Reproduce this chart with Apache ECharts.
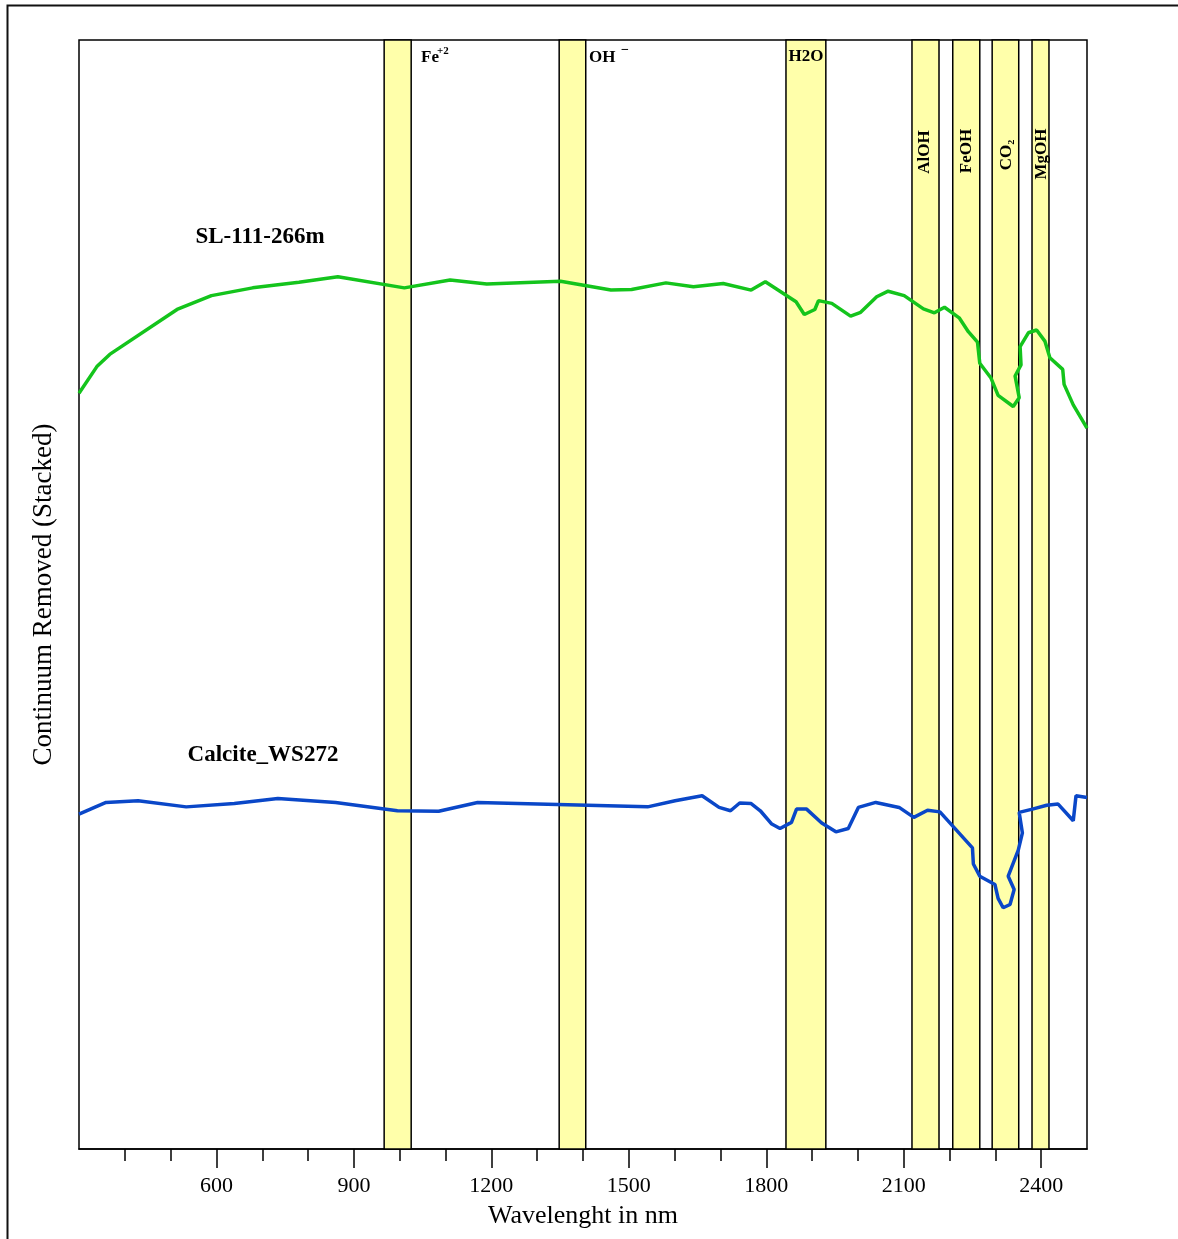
<!DOCTYPE html>
<html><head><meta charset="utf-8">
<script src="https://cdn.jsdelivr.net/npm/echarts@6/dist/echarts.min.js"></script>
<style>html,body{margin:0;padding:0;background:#fff}#c{width:1178px;height:1239px}</style>
</head><body><div id="c"></div>
<script>
// ---- data ----
const sampleName = 'SL-111-266m';
const sampleWl = [300,339,367,514,589,679,780,865,1010,1110,1190,1351,1461,1506,1581,1641,1706,1767,1798,1865,1883,1906,1914,1943,1984,2006,2041,2066,2101,2143,2167,2189,2221,2241,2261,2266,2290,2306,2339,2352,2343,2356,2354,2372,2390,2408,2419,2447,2450,2470,2500];
const sampleVal = [1.363,1.411,1.433,1.514,1.539,1.553,1.563,1.573,1.553,1.567,1.560,1.565,1.549,1.550,1.562,1.555,1.561,1.549,1.564,1.528,1.505,1.514,1.530,1.525,1.502,1.509,1.537,1.547,1.539,1.515,1.508,1.518,1.499,1.474,1.455,1.417,1.391,1.359,1.339,1.355,1.394,1.414,1.447,1.472,1.477,1.457,1.427,1.406,1.379,1.342,1.300];
const calciteName = 'Calcite_WS272';
const calciteWl = [300,359,429,534,639,734,860,995,1085,1170,1541,1601,1660,1697,1722,1742,1767,1787,1812,1830,1855,1866,1888,1921,1952,1979,2001,2039,2090,2122,2152,2179,2250,2252,2266,2299,2306,2317,2332,2341,2328,2350,2359,2352,2381,2412,2437,2470,2476,2500];
const calciteVal = [0.604,0.625,0.628,0.617,0.623,0.632,0.625,0.610,0.609,0.625,0.617,0.628,0.637,0.616,0.610,0.624,0.623,0.610,0.586,0.578,0.589,0.613,0.613,0.588,0.572,0.578,0.616,0.625,0.616,0.598,0.611,0.608,0.543,0.514,0.492,0.477,0.452,0.435,0.441,0.468,0.492,0.539,0.570,0.607,0.613,0.620,0.622,0.592,0.637,0.634];
const bandNames = ['Fe+2','OH-','H2O','AlOH','FeOH','CO2','MgOH'];
const bandStart = [966,1348,1843,2118,2207,2293,2380];
const bandEnd   = [1025,1406,1930,2177,2266,2351,2417];
const xLabelTicks = [600,900,1200,1500,1800,2100,2400];
const xMinorTicks = [400,500,700,800,1000,1100,1300,1400,1600,1700,1900,2000,2200,2300];
const xMin = 300, xMax = 2500, yMin = 0, yMax = 2;

// ---- chart ----
const chart = echarts.init(document.getElementById('c'), null, {renderer: 'canvas'});
const zip = (a, b) => a.map((v, i) => [v, b[i]]);
const serif = "'Liberation Serif', 'Times New Roman', serif";
const txt = (x, y, text, size, opts) => Object.assign({
  type: 'text', x: x, y: y, z: 100,
  style: Object.assign({text: text, fontFamily: serif, fontSize: size, fontWeight: 'bold', fill: '#000',
    align: 'center', verticalAlign: 'middle', textAlign: 'center', textVerticalAlign: 'middle'}, (opts && opts.style) || {})
}, (opts && opts.el) || {});

const option = {
  animation: false,
  backgroundColor: '#fff',
  grid: {left: 79, right: 91, top: 40, bottom: 90, show: true, borderColor: '#000', borderWidth: 1.5, backgroundColor: 'transparent'},
  xAxis: [{
    type: 'value', min: xMin, max: xMax, position: 'bottom',
    name: 'Wavelenght in nm', nameLocation: 'middle', nameGap: 54,
    nameTextStyle: {fontFamily: serif, fontSize: 26, color: '#000'},
    axisLine: {show: true, lineStyle: {color: '#000', width: 1.5}},
    axisTick: {show: true, length: 19, customValues: xLabelTicks, lineStyle: {color: '#000', width: 1.5}},
    axisLabel: {show: true, customValues: xLabelTicks, margin: 26, fontFamily: serif, fontSize: 22, color: '#000',
      formatter: v => String(v)},
    splitLine: {show: false}
  }, {
    type: 'value', min: xMin, max: xMax, position: 'bottom', gridIndex: 0,
    axisLine: {show: false},
    axisTick: {show: true, length: 12, customValues: xMinorTicks, lineStyle: {color: '#000', width: 1.5}},
    axisLabel: {show: false},
    splitLine: {show: false}
  }],
  yAxis: {
    type: 'value', min: yMin, max: yMax,
    name: 'Continuum Removed (Stacked)', nameLocation: 'middle', nameGap: 22,
    nameTextStyle: {fontFamily: serif, fontSize: 27, color: '#000'},
    axisLine: {show: false}, axisTick: {show: false}, axisLabel: {show: false}, splitLine: {show: false}
  },
  series: [{
    type: 'line', name: 'bands', data: [], z: 1, silent: true,
    markArea: {
      silent: true,
      itemStyle: {color: '#FFFFAA', borderColor: '#000', borderWidth: 1.5},
      label: {show: false},
      data: bandNames.map((n, i) => [{name: n, xAxis: bandStart[i]}, {xAxis: bandEnd[i]}])
    }
  }, {
    type: 'line', name: sampleName, data: zip(sampleWl, sampleVal), z: 3,
    showSymbol: false, symbol: 'none', lineStyle: {color: '#14C41C', width: 3.5}, itemStyle: {color: '#14C41C'}
  }, {
    type: 'line', name: calciteName, data: zip(calciteWl, calciteVal), z: 3,
    showSymbol: false, symbol: 'none', lineStyle: {color: '#0A47C8', width: 3.5}, itemStyle: {color: '#0A47C8'}
  }],
  graphic: [
    {type: 'rect', z: 0, shape: {x: 7.5, y: 5.5, width: 1400, height: 1400}, style: {fill: 'none', stroke: '#111', lineWidth: 2}},
    txt(260, 237, sampleName, 23),
    txt(263, 755, calciteName, 23),
    txt(421, 58, 'Fe', 17, {style: {align: 'left', textAlign: 'left'}}),
    txt(437, 51, '+2', 11, {style: {align: 'left', textAlign: 'left'}}),
    txt(589, 58, 'OH', 17, {style: {align: 'left', textAlign: 'left'}}),
    txt(625, 50, '\u2212', 14),
    txt(806, 57, 'H2O', 17),
    txt(925, 152, 'AlOH', 17, {el: {rotation: Math.PI / 2}}),
    txt(967, 151, 'FeOH', 17, {el: {rotation: Math.PI / 2}}),
    txt(1007, 155, 'CO\u2082', 17, {el: {rotation: Math.PI / 2}}),
    txt(1042, 154, 'MgOH', 17, {el: {rotation: Math.PI / 2}})
  ]
};
chart.setOption(option);
</script>
</body></html>
